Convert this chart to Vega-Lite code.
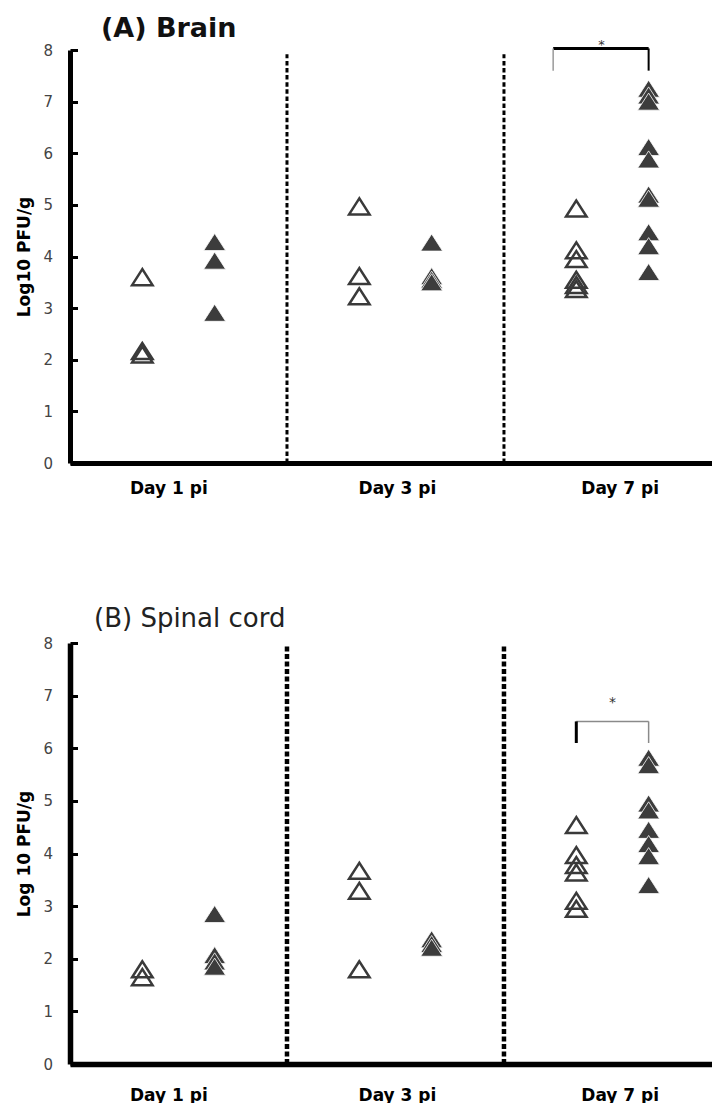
{
  "$schema": "https://vega.github.io/schema/vega-lite/v6.json",
  "background": "white",
  "padding": {"left": 15, "top": 14, "right": 0, "bottom": 0},
  "autosize": {"type": "pad"},
  "bounds": "flush",
  "spacing": 180,
  "config": {"view": {"stroke": null}, "font": "DejaVu Sans"},
  "datasets": {
    "brain": [
      {"day": "Day 1 pi", "group": "open", "slot": 1, "log_pfu": 3.6},
      {"day": "Day 1 pi", "group": "open", "slot": 1, "log_pfu": 2.17},
      {"day": "Day 1 pi", "group": "open", "slot": 1, "log_pfu": 2.1},
      {"day": "Day 1 pi", "group": "filled", "slot": 2, "log_pfu": 4.28},
      {"day": "Day 1 pi", "group": "filled", "slot": 2, "log_pfu": 3.92},
      {"day": "Day 1 pi", "group": "filled", "slot": 2, "log_pfu": 2.91},
      {"day": "Day 3 pi", "group": "open", "slot": 4, "log_pfu": 4.97},
      {"day": "Day 3 pi", "group": "open", "slot": 4, "log_pfu": 3.62},
      {"day": "Day 3 pi", "group": "open", "slot": 4, "log_pfu": 3.23},
      {"day": "Day 3 pi", "group": "filled", "slot": 5, "log_pfu": 4.27},
      {"day": "Day 3 pi", "group": "filled", "slot": 5, "log_pfu": 3.62},
      {"day": "Day 3 pi", "group": "filled", "slot": 5, "log_pfu": 3.55},
      {"day": "Day 3 pi", "group": "filled", "slot": 5, "log_pfu": 3.5},
      {"day": "Day 7 pi", "group": "open", "slot": 7, "log_pfu": 4.93},
      {"day": "Day 7 pi", "group": "open", "slot": 7, "log_pfu": 4.12},
      {"day": "Day 7 pi", "group": "open", "slot": 7, "log_pfu": 3.95},
      {"day": "Day 7 pi", "group": "open", "slot": 7, "log_pfu": 3.55},
      {"day": "Day 7 pi", "group": "open", "slot": 7, "log_pfu": 3.45},
      {"day": "Day 7 pi", "group": "open", "slot": 7, "log_pfu": 3.37},
      {"day": "Day 7 pi", "group": "filled", "slot": 8, "log_pfu": 7.25},
      {"day": "Day 7 pi", "group": "filled", "slot": 8, "log_pfu": 7.12},
      {"day": "Day 7 pi", "group": "filled", "slot": 8, "log_pfu": 7.0},
      {"day": "Day 7 pi", "group": "filled", "slot": 8, "log_pfu": 6.12},
      {"day": "Day 7 pi", "group": "filled", "slot": 8, "log_pfu": 5.88},
      {"day": "Day 7 pi", "group": "filled", "slot": 8, "log_pfu": 5.2},
      {"day": "Day 7 pi", "group": "filled", "slot": 8, "log_pfu": 5.12},
      {"day": "Day 7 pi", "group": "filled", "slot": 8, "log_pfu": 4.47},
      {"day": "Day 7 pi", "group": "filled", "slot": 8, "log_pfu": 4.2},
      {"day": "Day 7 pi", "group": "filled", "slot": 8, "log_pfu": 3.7}
    ],
    "spinal": [
      {"day": "Day 1 pi", "group": "open", "slot": 1, "log_pfu": 1.8},
      {"day": "Day 1 pi", "group": "open", "slot": 1, "log_pfu": 1.65},
      {"day": "Day 1 pi", "group": "filled", "slot": 2, "log_pfu": 2.85},
      {"day": "Day 1 pi", "group": "filled", "slot": 2, "log_pfu": 2.07},
      {"day": "Day 1 pi", "group": "filled", "slot": 2, "log_pfu": 1.95},
      {"day": "Day 1 pi", "group": "filled", "slot": 2, "log_pfu": 1.85},
      {"day": "Day 3 pi", "group": "open", "slot": 4, "log_pfu": 3.67},
      {"day": "Day 3 pi", "group": "open", "slot": 4, "log_pfu": 3.29},
      {"day": "Day 3 pi", "group": "open", "slot": 4, "log_pfu": 1.8},
      {"day": "Day 3 pi", "group": "filled", "slot": 5, "log_pfu": 2.37},
      {"day": "Day 3 pi", "group": "filled", "slot": 5, "log_pfu": 2.28},
      {"day": "Day 3 pi", "group": "filled", "slot": 5, "log_pfu": 2.21},
      {"day": "Day 7 pi", "group": "open", "slot": 7, "log_pfu": 4.54},
      {"day": "Day 7 pi", "group": "open", "slot": 7, "log_pfu": 3.97},
      {"day": "Day 7 pi", "group": "open", "slot": 7, "log_pfu": 3.78},
      {"day": "Day 7 pi", "group": "open", "slot": 7, "log_pfu": 3.64},
      {"day": "Day 7 pi", "group": "open", "slot": 7, "log_pfu": 3.1},
      {"day": "Day 7 pi", "group": "open", "slot": 7, "log_pfu": 2.95},
      {"day": "Day 7 pi", "group": "filled", "slot": 8, "log_pfu": 5.82},
      {"day": "Day 7 pi", "group": "filled", "slot": 8, "log_pfu": 5.68},
      {"day": "Day 7 pi", "group": "filled", "slot": 8, "log_pfu": 4.95},
      {"day": "Day 7 pi", "group": "filled", "slot": 8, "log_pfu": 4.82},
      {"day": "Day 7 pi", "group": "filled", "slot": 8, "log_pfu": 4.45},
      {"day": "Day 7 pi", "group": "filled", "slot": 8, "log_pfu": 4.18},
      {"day": "Day 7 pi", "group": "filled", "slot": 8, "log_pfu": 3.95},
      {"day": "Day 7 pi", "group": "filled", "slot": 8, "log_pfu": 3.4}
    ],
    "dividers": [{"slot": 3}, {"slot": 6}],
    "significance": [{"label": "*"}]
  },
  "vconcat": [
    {
      "width": 643,
      "height": 413,
      "title": {"text": "(A) Brain", "anchor": "start", "frame": "group", "font": "DejaVu Sans", "fontSize": 27, "fontWeight": "bold", "color": "#111111", "dx": 31, "offset": -25, "baseline": "alphabetic"},
      "layer": [
        {
          "data": {"name": "dividers"},
          "mark": {"type": "rule", "stroke": "black", "strokeWidth": 3, "strokeDash": [4.5, 2.6]},
          "encoding": {
            "x": {"field": "slot", "type": "quantitative", "scale": {"domain": [0, 8.89], "nice": false, "zero": false}},
            "y": {"datum": 0, "scale": {"domain": [0, 8], "nice": false}},
            "y2": {"datum": 7.92}
          }
        },
        {
          "data": {"name": "significance"},
          "mark": {"type": "rule", "stroke": "black", "strokeWidth": 3},
          "encoding": {"x": {"datum": 6.68}, "x2": {"datum": 8}, "y": {"datum": 8.03}}
        },
        {
          "data": {"name": "significance"},
          "mark": {"type": "rule", "stroke": "#9a9a9a", "strokeWidth": 1.5},
          "encoding": {"x": {"datum": 6.68}, "y": {"datum": 7.6}, "y2": {"datum": 8.03}}
        },
        {
          "data": {"name": "significance"},
          "mark": {"type": "rule", "stroke": "black", "strokeWidth": 2},
          "encoding": {"x": {"datum": 8}, "y": {"datum": 7.6}, "y2": {"datum": 8.03}}
        },
        {
          "data": {"name": "significance"},
          "mark": {"type": "text", "font": "DejaVu Sans", "fontSize": 13, "fill": "#333333", "baseline": "alphabetic", "align": "center"},
          "encoding": {"x": {"datum": 7.35}, "y": {"datum": 8.02}, "text": {"field": "label", "type": "nominal"}}
        },
        {
          "data": {"name": "brain"},
          "transform": [{"filter": "datum.group === 'open'"}],
          "mark": {"type": "point", "shape": "M0,-0.78L-1,0.78L1,0.78Z", "size": 420, "filled": false, "stroke": "#3a3a3a", "strokeWidth": 2.5, "opacity": 1},
          "encoding": {
            "x": {
              "field": "slot", "type": "quantitative",
              "axis": {"values": [1.36, 4.52, 7.6], "labelExpr": "datum.value < 3 ? 'Day 1 pi' : datum.value < 6 ? 'Day 3 pi' : 'Day 7 pi'", "title": null, "grid": false, "ticks": false, "tickSize": 0, "labelPadding": 17, "labelFont": "DejaVu Sans", "labelFontSize": 17, "labelFontWeight": "bold", "labelColor": "black", "labelFlush": false, "labelOverlap": false, "domainColor": "black", "domainWidth": 5}
            },
            "y": {
              "field": "log_pfu", "type": "quantitative",
              "axis": {"values": [0, 1, 2, 3, 4, 5, 6, 7, 8], "title": "Log10 PFU/g", "titleFont": "DejaVu Sans", "titleFontSize": 17, "titleFontWeight": "bold", "titleColor": "black", "titlePadding": 9, "labelFont": "DejaVu Sans", "labelFontSize": 15, "labelColor": "#444444", "labelPadding": 25, "grid": false, "domainColor": "black", "domainWidth": 5, "tickColor": "black", "tickWidth": 3, "tickSize": -7.5}
            }
          }
        },
        {
          "data": {"name": "brain"},
          "transform": [{"filter": "datum.group === 'filled'"}],
          "mark": {"type": "point", "shape": "M0,-0.78L-1,0.78L1,0.78Z", "size": 480, "filled": true, "fill": "#3c3c3c", "stroke": "white", "strokeWidth": 0.8, "opacity": 1},
          "encoding": {
            "x": {"field": "slot", "type": "quantitative"},
            "y": {"field": "log_pfu", "type": "quantitative"}
          }
        }
      ]
    },
    {
      "width": 643,
      "height": 421,
      "title": {"text": "(B) Spinal cord", "anchor": "start", "frame": "group", "font": "DejaVu Sans", "fontSize": 26, "fontWeight": "normal", "color": "#222222", "dx": 24, "offset": -16.5, "baseline": "alphabetic"},
      "layer": [
        {
          "data": {"name": "dividers"},
          "mark": {"type": "rule", "stroke": "black", "strokeWidth": 4.5, "strokeDash": [5, 2.5]},
          "encoding": {
            "x": {"field": "slot", "type": "quantitative", "scale": {"domain": [0, 8.89], "nice": false, "zero": false}},
            "y": {"datum": 0, "scale": {"domain": [0, 8], "nice": false}},
            "y2": {"datum": 7.94}
          }
        },
        {
          "data": {"name": "significance"},
          "mark": {"type": "rule", "stroke": "#8a8a8a", "strokeWidth": 1.5},
          "encoding": {"x": {"datum": 7}, "x2": {"datum": 8}, "y": {"datum": 6.51}}
        },
        {
          "data": {"name": "significance"},
          "mark": {"type": "rule", "stroke": "black", "strokeWidth": 3},
          "encoding": {"x": {"datum": 7}, "y": {"datum": 6.1}, "y2": {"datum": 6.51}}
        },
        {
          "data": {"name": "significance"},
          "mark": {"type": "rule", "stroke": "#8a8a8a", "strokeWidth": 1.5},
          "encoding": {"x": {"datum": 8}, "y": {"datum": 6.1}, "y2": {"datum": 6.51}}
        },
        {
          "data": {"name": "significance"},
          "mark": {"type": "text", "font": "DejaVu Sans", "fontSize": 14, "fill": "#333333", "baseline": "alphabetic", "align": "center"},
          "encoding": {"x": {"datum": 7.5}, "y": {"datum": 6.79}, "text": {"field": "label", "type": "nominal"}}
        },
        {
          "data": {"name": "spinal"},
          "transform": [{"filter": "datum.group === 'open'"}],
          "mark": {"type": "point", "shape": "M0,-0.78L-1,0.78L1,0.78Z", "size": 420, "filled": false, "stroke": "#3a3a3a", "strokeWidth": 2.5, "opacity": 1},
          "encoding": {
            "x": {
              "field": "slot", "type": "quantitative",
              "axis": {"values": [1.36, 4.52, 7.6], "labelExpr": "datum.value < 3 ? 'Day 1 pi' : datum.value < 6 ? 'Day 3 pi' : 'Day 7 pi'", "title": null, "grid": false, "ticks": false, "tickSize": 0, "labelPadding": 23, "labelFont": "DejaVu Sans", "labelFontSize": 17, "labelFontWeight": "bold", "labelColor": "black", "labelFlush": false, "labelOverlap": false, "domainColor": "black", "domainWidth": 5.5}
            },
            "y": {
              "field": "log_pfu", "type": "quantitative",
              "axis": {"values": [0, 1, 2, 3, 4, 5, 6, 7, 8], "title": "Log 10 PFU/g", "titleFont": "DejaVu Sans", "titleFontSize": 17, "titleFontWeight": "bold", "titleColor": "black", "titlePadding": 9, "labelFont": "DejaVu Sans", "labelFontSize": 15, "labelColor": "#444444", "labelPadding": 25, "grid": false, "domainColor": "black", "domainWidth": 5.5, "tickColor": "black", "tickWidth": 3, "tickSize": -7.5}
            }
          }
        },
        {
          "data": {"name": "spinal"},
          "transform": [{"filter": "datum.group === 'filled'"}],
          "mark": {"type": "point", "shape": "M0,-0.78L-1,0.78L1,0.78Z", "size": 480, "filled": true, "fill": "#3c3c3c", "stroke": "white", "strokeWidth": 0.8, "opacity": 1},
          "encoding": {
            "x": {"field": "slot", "type": "quantitative"},
            "y": {"field": "log_pfu", "type": "quantitative"}
          }
        }
      ]
    }
  ]
}
